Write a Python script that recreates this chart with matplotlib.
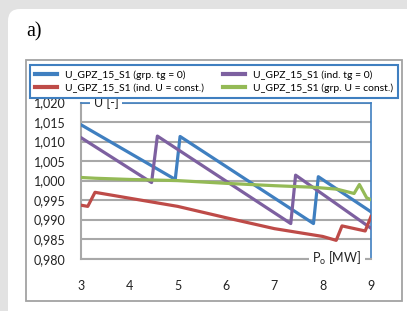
import matplotlib
matplotlib.use('Agg')
import matplotlib.pyplot as plt
from matplotlib.patches import FancyBboxPatch, Rectangle
from matplotlib.ticker import FuncFormatter

# data
X_TICKS = [3, 4, 5, 6, 7, 8, 9]
Y_TICKS = [0.980, 0.985, 0.990, 0.995, 1.000, 1.005, 1.010, 1.015, 1.020]

grp_tg_x = [3, 4.95, 5.05, 7.81, 7.91, 9]
grp_tg_y = [1.0143, 1.0003, 1.0113, 0.9890, 1.0010, 0.9920]

ind_tg_x = [3, 4.46, 4.58, 7.34, 7.44, 9]
ind_tg_y = [1.0110, 0.9995, 1.0114, 0.9890, 1.0014, 0.9878]

ind_u_x = [3, 3.14, 3.29, 4, 5, 6, 7, 8, 8.28, 8.40, 8.88, 9]
ind_u_y = [0.9937, 0.9934, 0.9970, 0.9955, 0.9934, 0.9905, 0.9877, 0.9857, 0.9847, 0.9884, 0.9871, 0.9908]

grp_u_x = [3, 3.3, 4, 5, 6, 7, 7.8, 8.3, 8.65, 8.76, 8.91, 9]
grp_u_y = [1.0008, 1.0006, 1.0003, 1.0000, 0.9993, 0.9987, 0.9983, 0.9978, 0.9967, 0.9990, 0.9956, 0.9951]

LABELS = ['U_GPZ_15_S1 (grp. tg = 0)', 'U_GPZ_15_S1 (ind. U = const.)',
          'U_GPZ_15_S1 (ind. tg = 0)', 'U_GPZ_15_S1 (grp. U = const.)']

BLUE = '#3f7fc0'
RED = '#be4b48'
PURPLE = '#7d60a0'
GREEN = '#94ba56'
GRID = '#a8a8a8'

plt.rcParams['font.family'] = ['Lato', 'DejaVu Sans']
plt.rcParams['mathtext.fontset'] = 'custom'
plt.rcParams['mathtext.rm'] = 'Lato'

W, H = 407, 311
fig = plt.figure(figsize=(W / 100, H / 100), dpi=100)
fig.patch.set_facecolor('#e2e2e2')

def px(x0, y0, w, h):
    # pixel box (from top-left) -> figure fraction
    return (x0 / W, 1 - (y0 + h) / H, w / W, h / H)

# white rounded panel (display pixels, origin bottom-left)
fig.patches.append(FancyBboxPatch((8, -30), 430, H - 9 + 30,
                                  boxstyle='round,pad=0,rounding_size=12',
                                  transform=None, facecolor='white', edgecolor='none', zorder=-2))
# chart frame
x0, y0, w, h = px(25.5, 59.5, 376, 241.5)
fig.patches.append(Rectangle((x0, y0), w, h, transform=fig.transFigure, zorder=-1,
                             facecolor='white', edgecolor='#a3a3a3', lw=1.3))

fig.text(26 / W, 1 - 32 / H, 'a)', family='Liberation Serif', fontsize=14.5, va='center', ha='left')

ax = fig.add_axes(px(81, 102.5, 290, 156.2))
ax.patch.set_alpha(0)
l1, = ax.plot(grp_tg_x, grp_tg_y, color=BLUE, lw=2.3, zorder=3)
l3, = ax.plot(ind_tg_x, ind_tg_y, color=PURPLE, lw=2.3, zorder=3)
l2, = ax.plot(ind_u_x, ind_u_y, color=RED, lw=2.3, zorder=3)
l4, = ax.plot(grp_u_x, grp_u_y, color=GREEN, lw=2.3, zorder=3)

ax.set_xlim(3, 9)
ax.set_ylim(0.980, 1.020)
ax.set_xticks(X_TICKS)
ax.set_yticks(Y_TICKS)
ax.yaxis.set_major_formatter(FuncFormatter(lambda v, p: f'{v:.3f}'.replace('.', ',')))
ax.tick_params(length=0, labelsize=9, colors='#222222')
ax.tick_params(axis='x', pad=15)
ax.tick_params(axis='y', pad=11)
ax.grid(axis='y', color=GRID, lw=1.5)
ax.set_axisbelow(True)

ax.spines['left'].set_color(GRID)
ax.spines['left'].set_linewidth(1.5)
ax.spines['bottom'].set_color(GRID)
ax.spines['bottom'].set_linewidth(1.5)
ax.spines['top'].set_color(BLUE)
ax.spines['top'].set_linewidth(1.2)
ax.spines['right'].set_color(BLUE)
ax.spines['right'].set_linewidth(1.2)

# axis titles sitting on the frame
ax.text(0.086, 1.0, 'U [-]', transform=ax.transAxes, ha='center', va='center', fontsize=9,
        color='#222222', bbox=dict(facecolor='white', edgecolor='none', pad=2.5), zorder=5)
ax.text(0.883, 0.0, 'P$_\\mathrm{o}$ [MW]', transform=ax.transAxes, ha='center', va='center',
        fontsize=9, color='#222222', bbox=dict(facecolor='white', edgecolor='none', pad=2.5), zorder=5)

leg = fig.legend([l1, l2, l3, l4], LABELS, ncol=2, loc='lower left',
                 bbox_to_anchor=px(30, 63.5, 368, 34), mode='expand',
                 fontsize=7.5, frameon=True, fancybox=False, framealpha=1,
                 handlelength=2.1, handletextpad=0.8, columnspacing=0.8,
                 borderaxespad=0, borderpad=0.45, labelspacing=0.35)
leg.get_frame().set_edgecolor(BLUE)
leg.get_frame().set_linewidth(1.5)
for line in leg.get_lines():
    line.set_linewidth(3)

fig.savefig('out.png', dpi=100, facecolor=fig.get_facecolor())
